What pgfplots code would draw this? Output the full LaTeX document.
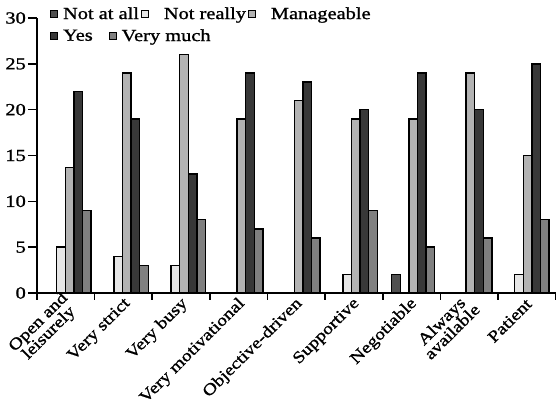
\documentclass[border=0pt]{standalone}
\usepackage{pgfplots}
\pgfplotsset{compat=1.18}
\usepackage{fontspec}
\setmainfont{Liberation Serif}[FakeStretch=1.2, FakeBold=1.2]
\definecolor{cNot}{HTML}{505050}
\definecolor{cReally}{HTML}{E6E6E6}
\definecolor{cMan}{HTML}{B3B3B3}
\definecolor{cYes}{HTML}{383838}
\definecolor{cMuch}{HTML}{808080}
\pgfplotsset{
  myleg/.style={
    legend cell align=left,
    legend style={draw=none, fill=none, font=\fontsize{17}{20}\selectfont, inner sep=0pt,
      /tikz/every odd column/.append style={column sep=3pt}},
    legend image code/.code={\draw[##1, line width=0.9pt] (0pt,-3.5pt) rectangle (7pt,3.5pt);},
  }
}
\begin{document}
\begin{tikzpicture}
\begin{axis}[
  name=ax,
  scale only axis,
  width=519pt, height=275pt,
  ybar=0pt, bar width=8.6pt,
  xmin=-0.568, xmax=8.495,
  ymin=0, ymax=30,
  axis lines=left,
  axis line style={line width=1.5pt, -},
  xtick={0,...,8},
  xticklabels={{Open and\\leisurely},{Very strict},{Very busy},{Very motivational},{Objective-driven},{Supportive},{Negotiable},{Always\\available},{Patient}},
  minor xtick={-0.568,0.439,1.444,2.451,3.457,4.464,5.471,6.477,7.484,8.489},
  major x tick style={draw=none},
  minor x tick style={line width=1.5pt, black},
  minor tick length=7pt,
  ytick={0,5,...,30},
  major y tick style={line width=1.5pt, black},
  major tick length=9pt,
  tick align=outside,
  xticklabel style={font=\fontsize{16.3}{15}\selectfont, align=center, inner sep=1pt, anchor=east, xshift=2pt, yshift=1.5pt, rotate=45},
  yticklabel style={font=\fontsize{17}{20}\selectfont, inner sep=2pt},
  /pgf/number format/assume math mode=true,
  myleg,
  legend columns=3,
  legend style={at={(rel axis cs:0.025,1.047)}, anchor=north west},
  every axis plot/.append style={draw=black, line width=1.4pt},
]
\addplot[fill=cNot] coordinates {(6,2)};
\addplot[fill=cReally] coordinates {(0,5) (1,4) (2,3) (5,2) (8,2)};
\addplot[fill=cMan] coordinates {(0,13.7) (1,24) (2,26) (3,19) (4,21) (5,19) (6,19) (7,24) (8,15)};
\addplot[fill=cYes] coordinates {(0,22) (1,19) (2,13) (3,24) (4,23) (5,20) (6,24) (7,20) (8,25)};
\addplot[fill=cMuch] coordinates {(0,9) (1,3) (2,8) (3,7) (4,6) (5,9) (6,5) (7,6) (8,8)};
\legend{Not at all, {\hspace{10pt}Not really}, {\hspace{10pt}Manageable}}
\end{axis}
\begin{axis}[
  scale only axis, width=519pt, height=275pt,
  xmin=0, xmax=1, ymin=0, ymax=1, hide axis,
  myleg,
  legend columns=2,
  legend style={at={(rel axis cs:0.025,0.967)}, anchor=north west,
    /tikz/every even column/.append style={column sep=14pt}},
]
\addlegendimage{fill=cYes, draw=black}
\addlegendentry{Yes}
\addlegendimage{fill=cMuch, draw=black}
\addlegendentry{Very much}
\end{axis}
\pgfresetboundingbox
\path[use as bounding box] ([xshift=-37pt, yshift=-114pt]ax.south west) rectangle ([yshift=18pt]ax.north east);
\end{tikzpicture}
\end{document}
